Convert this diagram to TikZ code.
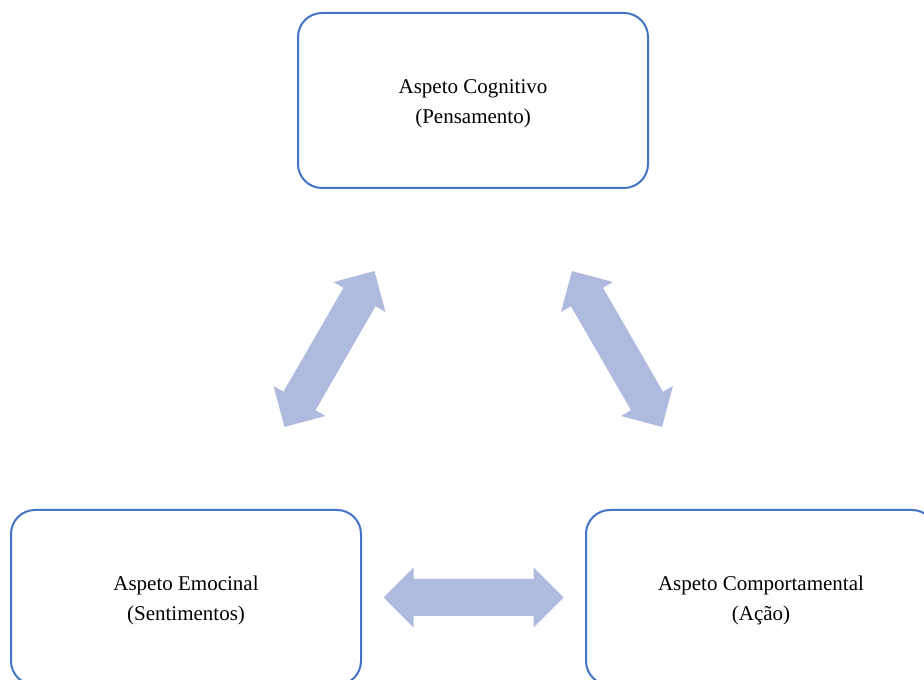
\documentclass[tikz,border=0pt]{standalone}
\usepackage{fontspec}
\setmainfont{Liberation Serif}
\usetikzlibrary{calc}
\definecolor{boxline}{RGB}{68,114,196}
\definecolor{arrowfill}{RGB}{175,187,222}
% invisible strut that gives the first line of a box extra room above it
\newcommand\lowerfirst{\rule{0pt}{20pt}}
\tikzset{
  aspect/.style={draw=boxline, line width=2pt, rounded corners=24pt,
    minimum width=350pt, minimum height=175pt, align=center, fill=white,
    font=\fontsize{21}{30}\selectfont},
  % two-headed block arrow, 180pt long, centred on the origin
  dblarrow/.pic={
    \fill[arrowfill] (-90pt,0pt) -- (-60pt,30pt) -- (-60pt,18.5pt) -- (60pt,18.5pt)
      -- (60pt,30pt) -- (90pt,0pt) -- (60pt,-30pt) -- (60pt,-18.5pt)
      -- (-60pt,-18.5pt) -- (-60pt,-30pt) -- cycle;
  }
}
\begin{document}
\begin{tikzpicture}[x=1pt,y=1pt]
\useasboundingbox (0,0) rectangle (924,680);
\clip (0,0) rectangle (924,680);
\node[aspect] (cog)  at (473,579.5) {\lowerfirst Aspeto Cognitivo\\(Pensamento)};
\node[aspect] (emo)  at (186,82.5)  {\lowerfirst Aspeto Emocinal\\(Sentimentos)};
\node[aspect] (comp) at (761,82.5)  {\lowerfirst Aspeto Comportamental\\(Ação)};
\pic[rotate=60]  at ($(cog)!0.5!(emo)$)  {dblarrow};
\pic[rotate=-60] at ($(cog)!0.5!(comp)$) {dblarrow};
\pic             at ($(emo)!0.5!(comp)$) {dblarrow};
\end{tikzpicture}
\end{document}
